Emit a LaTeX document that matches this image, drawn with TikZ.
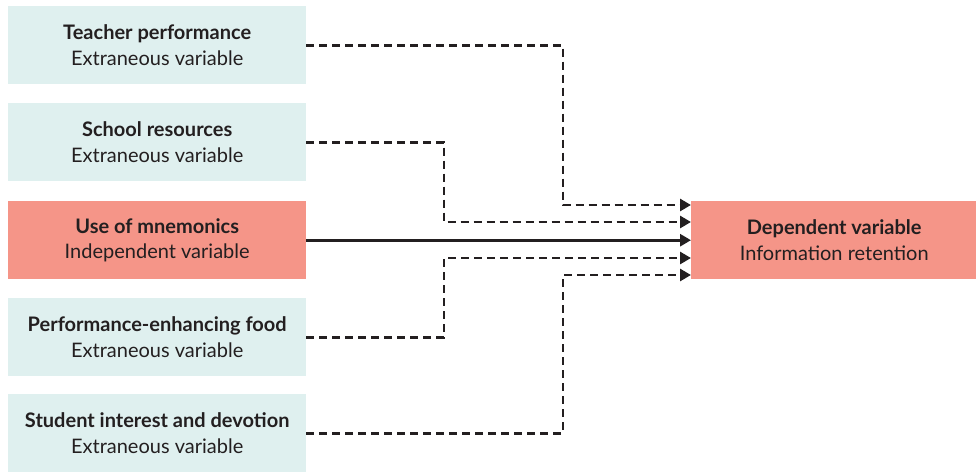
\documentclass[tikz,border=0pt]{standalone}
\usepackage{fontspec}
\setmainfont{Lato}
\usetikzlibrary{arrows.meta}
\definecolor{extbox}{HTML}{DFF0EF}
\definecolor{keybox}{HTML}{F59588}
\definecolor{ink}{HTML}{231F20}
\begin{document}
\begin{tikzpicture}[x=1pt,y=-1pt,
  varbox/.style={minimum width=298pt,minimum height=78pt,inner sep=0pt,
    align=center,font=\fontsize{20}{25.5}\selectfont,text=ink,anchor=north west},
  extvar/.style={varbox,fill=extbox},
  keyvar/.style={varbox,fill=keybox},
  link/.style={ink,line width=2.8pt,-{Triangle[length=11pt,width=12pt]}},
  maybe/.style={link,dash pattern=on 8pt off 5pt}]
\useasboundingbox (0,0) rectangle (976,471);

% left column: candidate causes
\node[extvar] (teacher) at (8,6)   {\textbf{Teacher performance}\\Extraneous variable};
\node[extvar] (school)  at (8,103) {\textbf{School resources}\\Extraneous variable};
\node[keyvar] (mnemo)   at (8,201) {\textbf{Use of mnemonics}\\Independent variable};
\node[extvar] (food)    at (8,298) {\textbf{Performance-enhancing food}\\Extraneous variable};
\node[extvar] (student) at (8,394) {\textbf{Student interest and devotion}\\Extraneous variable};

% outcome
\node[keyvar,minimum width=286pt] (dep) at (691,201) {\textbf{Dependent variable}\\Information retention};

% connectors
\draw[maybe] (teacher.east) -| (563,205) -- (dep.west |- 0,205);
\draw[maybe] (school.east)  -| (444,222) -- (dep.west |- 0,222);
\draw[link]  (mnemo.east) -- (dep.west);
\draw[maybe] (food.east)    -| (444,258) -- (dep.west |- 0,258);
\draw[maybe] (student.east) -| (563,275) -- (dep.west |- 0,275);
\end{tikzpicture}
\end{document}
